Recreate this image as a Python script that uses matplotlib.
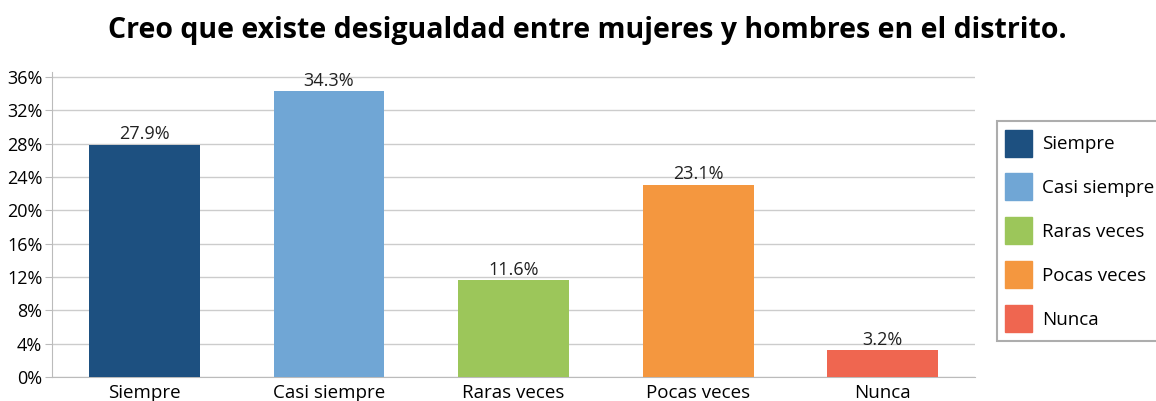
import matplotlib.pyplot as plt
from matplotlib.patches import Patch

categorias = ["Siempre", "Casi siempre", "Raras veces", "Pocas veces", "Nunca"]
porcentajes = [27.9, 34.3, 11.6, 23.1, 3.2]
colores = ["#1d5080", "#70a6d5", "#9cc65a", "#f4973f", "#ef6650"]
ticks_y = [0, 4, 8, 12, 16, 20, 24, 28, 32, 36]

plt.rcParams['font.family'] = ['Open Sans', 'DejaVu Sans']

fig = plt.figure(figsize=(11.56, 4.01), dpi=100)
ax = fig.add_axes([0.045, 0.0599, 0.7985, 0.7605])

x = range(len(categorias))
ax.bar(x, porcentajes, width=0.6, color=colores, zorder=3)

for i, v in zip(x, porcentajes):
    ax.text(i, v + 0.15, f"{v}%", ha="center", va="bottom", fontsize=13, color="#222222")

ax.set_xlim(-0.5, 4.5)
ax.set_ylim(0, 36.6)
ax.set_yticks(ticks_y)
ax.set_yticklabels([f"{t}%" for t in ticks_y], fontsize=13)
ax.set_xticks(list(x))
ax.set_xticklabels(categorias, fontsize=13.5)
ax.tick_params(axis="x", length=0, pad=5)
ax.tick_params(axis="y", length=5, color="#bbbbbb", pad=2)
ax.grid(axis="y", color="#cccccc", linewidth=1, zorder=0)

for lado in ["top", "right"]:
    ax.spines[lado].set_visible(False)
for lado in ["left", "bottom"]:
    ax.spines[lado].set_color("#bbbbbb")

fig.text(0.508, 0.925, "Creo que existe desigualdad entre mujeres y hombres en el distrito.",
         fontsize=20.5, fontweight="bold", ha="center", va="center")

handles = [Patch(facecolor=c, edgecolor=c) for c in colores]
leg = fig.legend(handles, categorias, loc="upper left", bbox_to_anchor=(0.8625, 0.698),
                 borderaxespad=0, fontsize=13.5, frameon=True, fancybox=False,
                 edgecolor="#999999", handlelength=1.44, handleheight=1.84,
                 labelspacing=0.9, handletextpad=0.5, borderpad=0.45)
leg.get_frame().set_linewidth(1.5)

fig.savefig("out.png", dpi=100)
